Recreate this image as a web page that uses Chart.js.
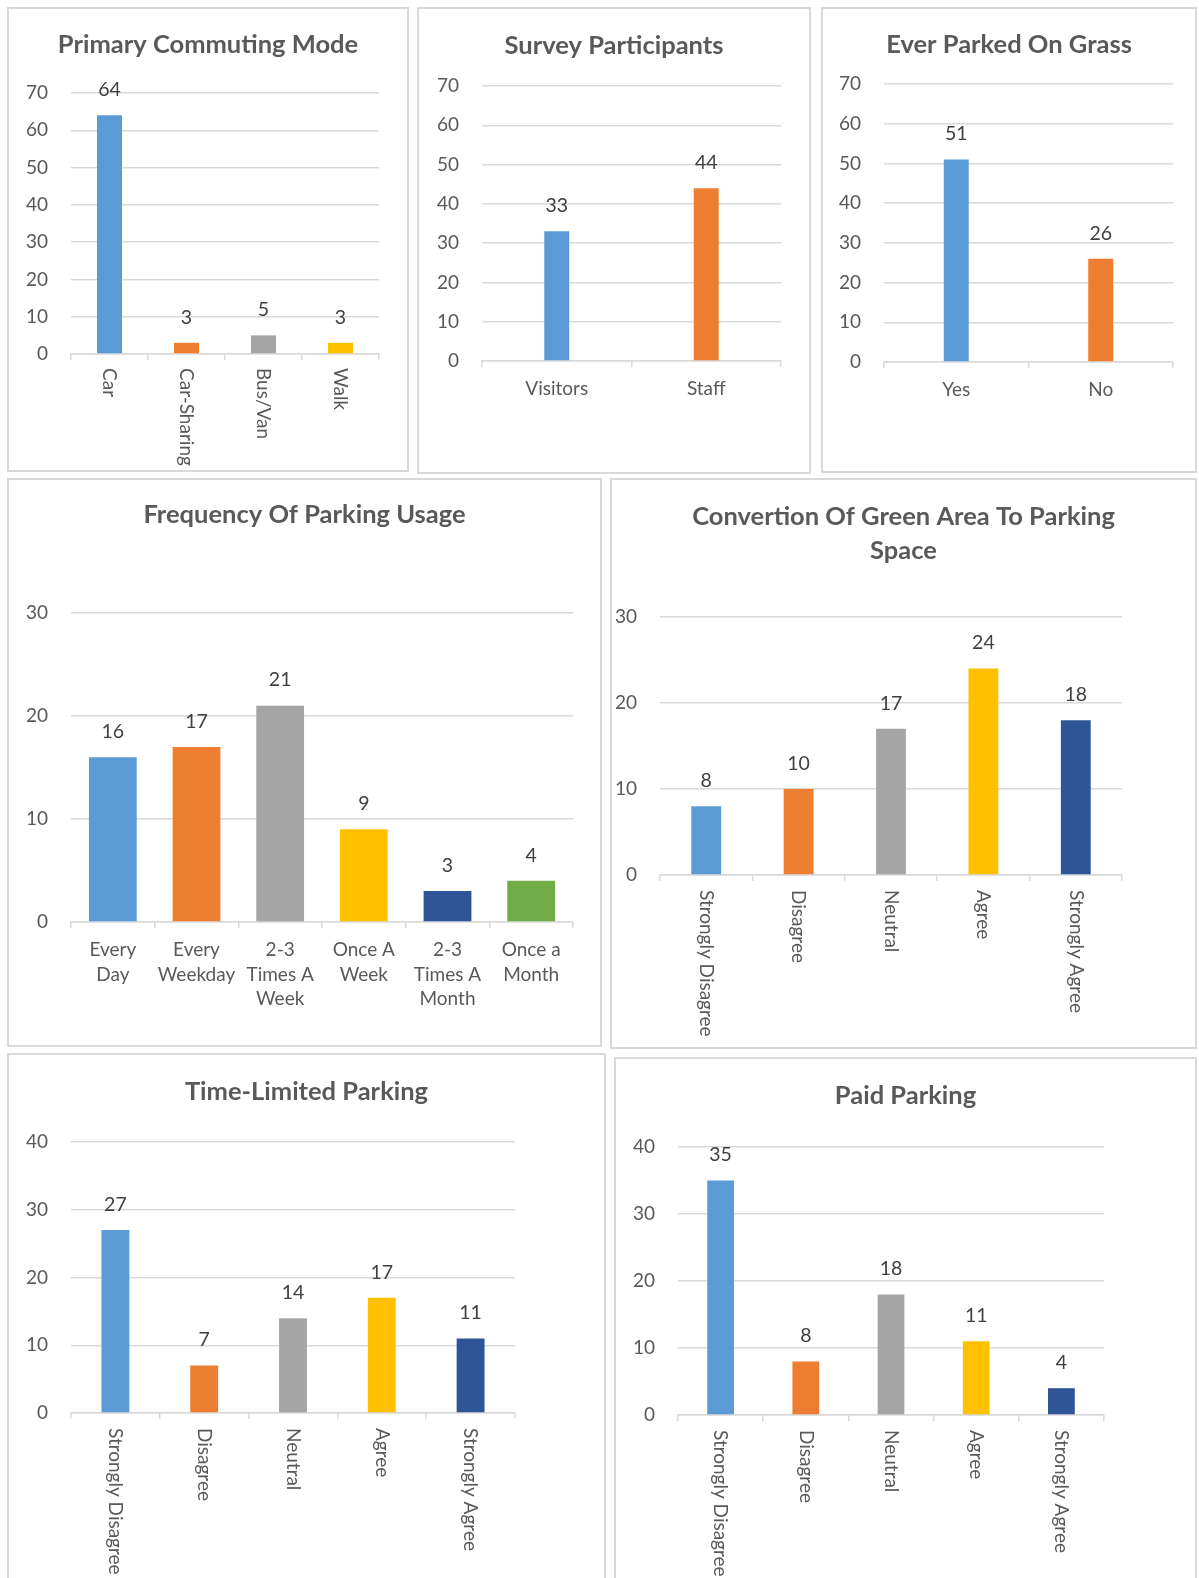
<!DOCTYPE html>
<html>
<head>
<meta charset="utf-8">
<script src="https://cdn.jsdelivr.net/npm/chart.js@4"></script>
<style>
  html, body { margin: 0; padding: 0; background: #fff; overflow: hidden; }
  body { width: 1199px; height: 1578px; position: relative; }
  .box { position: absolute; border: 2px solid #d9d9d9; box-sizing: border-box; }
  .box canvas { position: absolute; left: -2px; top: -2px; }
</style>
</head>
<body>
<script>
  // Survey data
  var commuteLabels = ['Car', 'Car-Sharing', 'Bus/Van', 'Walk'];
  var commuteValues = [64, 3, 5, 3];

  var participantLabels = ['Visitors', 'Staff'];
  var participantValues = [33, 44];

  var grassLabels = ['Yes', 'No'];
  var grassValues = [51, 26];

  var frequencyLabels = [['Every', 'Day'], ['Every', 'Weekday'], ['2-3', 'Times A', 'Week'],
                         ['Once A', 'Week'], ['2-3', 'Times A', 'Month'], ['Once a', 'Month']];
  var frequencyValues = [16, 17, 21, 9, 3, 4];

  var likertLabels = ['Strongly Disagree', 'Disagree', 'Neutral', 'Agree', 'Strongly Agree'];
  var conversionValues = [8, 10, 17, 24, 18];
  var timeLimitedValues = [27, 7, 14, 17, 11];
  var paidValues = [35, 8, 18, 11, 4];

  // y axis ranges (ticks every 10)
  var topRowMax = 70;
  var middleRowMax = 30;
  var bottomRowMax = 40;
  var tickStep = 10;

  var palette = ['#5B9BD5', '#ED7D31', '#A5A5A5', '#FFC000', '#2E5597', '#70AD47'];

  var FONT = 'Lato, "Open Sans", sans-serif';
  var TITLE_SIZE = 25.5;
  var TITLE_LH = 34.5;

  function drawBarChart(cfg) {
    var box = document.createElement('div');
    box.className = 'box';
    box.style.left = cfg.box[0] + 'px';
    box.style.top = cfg.box[1] + 'px';
    box.style.width = cfg.box[2] + 'px';
    box.style.height = cfg.box[3] + 'px';
    var canvas = document.createElement('canvas');
    canvas.width = cfg.box[2];
    canvas.height = cfg.box[3];
    canvas.style.width = cfg.box[2] + 'px';
    canvas.style.height = cfg.box[3] + 'px';
    box.appendChild(canvas);
    document.body.appendChild(box);

    var lines = Array.isArray(cfg.title) ? cfg.title.length : 1;
    var titleTop = cfg.titleCy - TITLE_LH / 2;
    var titleBottom = cfg.plotTop - titleTop - lines * TITLE_LH;
    var xHeight = cfg.box[3] - cfg.plotBottom;
    var padRight = cfg.box[2] - cfg.plotRight;

    // numbers above the bars
    var valueLabels = {
      id: 'valueLabels',
      afterDatasetsDraw: function (chart) {
        var ctx = chart.ctx;
        var meta = chart.getDatasetMeta(0);
        ctx.save();
        ctx.font = '19.5px ' + FONT;
        ctx.fillStyle = '#404040';
        ctx.textAlign = 'center';
        ctx.textBaseline = 'middle';
        meta.data.forEach(function (bar, i) {
          ctx.fillText(String(chart.data.datasets[0].data[i]), bar.x, bar.y - 25.5);
        });
        ctx.restore();
      }
    };

    // category names turned a quarter clockwise, reading downwards
    var rotatedLabels = {
      id: 'rotatedLabels',
      afterDraw: function (chart) {
        if (!cfg.rotated) return;
        var ctx = chart.ctx;
        var xs = chart.scales.x;
        ctx.save();
        ctx.font = '19px ' + FONT;
        ctx.fillStyle = '#595959';
        ctx.textAlign = 'left';
        ctx.textBaseline = 'middle';
        chart.data.labels.forEach(function (label, i) {
          ctx.save();
          ctx.translate(xs.getPixelForValue(i), chart.chartArea.bottom + cfg.gap);
          ctx.rotate(Math.PI / 2);
          ctx.fillText(label, 0, 0);
          ctx.restore();
        });
        ctx.restore();
      }
    };

    new Chart(canvas, {
      type: 'bar',
      data: {
        labels: cfg.labels,
        datasets: [{
          data: cfg.values,
          yAxisID: 'y',
          backgroundColor: palette.slice(0, cfg.values.length),
          barPercentage: cfg.barPct,
          categoryPercentage: 1
        }]
      },
      options: {
        responsive: false,
        animation: false,
        events: [],
        layout: { padding: 0 },
        plugins: {
          legend: { display: false },
          tooltip: { enabled: false },
          title: {
            display: true,
            text: cfg.title,
            color: '#595959',
            font: { family: FONT, size: TITLE_SIZE, weight: 'bold', lineHeight: TITLE_LH / TITLE_SIZE },
            padding: { top: titleTop, bottom: titleBottom }
          }
        },
        scales: {
          x: {
            grid: { offset: true, drawOnChartArea: false, color: '#d9d9d9', lineWidth: 1.5, tickLength: 6 },
            border: { color: '#d9d9d9', width: 1.5 },
            ticks: {
              display: !cfg.rotated,
              color: '#595959',
              font: { family: FONT, size: 19, lineHeight: 1.3 },
              maxRotation: 0, minRotation: 0, autoSkip: false, padding: 9.5
            },
            afterFit: function (scale) { scale.height = xHeight; }
          },
          y: {
            min: 0,
            max: cfg.max,
            ticks: { stepSize: tickStep, color: '#595959', font: { family: FONT, size: 19 }, padding: 23 },
            grid: { color: '#d9d9d9', lineWidth: 1.5, drawTicks: false },
            border: { display: false },
            afterFit: function (scale) { scale.width = cfg.plotLeft; }
          },
          padR: {
            type: 'linear',
            position: 'right',
            grid: { display: false },
            border: { display: false },
            ticks: { display: false },
            afterFit: function (scale) { scale.width = padRight; }
          }
        }
      },
      plugins: [valueLabels, rotatedLabels]
    });
  }

  drawBarChart({ box: [7, 7, 402, 465], title: 'Primary Commuting Mode', labels: commuteLabels, values: commuteValues,
    max: topRowMax, titleCy: 38, plotTop: 86, plotBottom: 347, plotLeft: 64, plotRight: 372, barPct: 0.325, rotated: true, gap: 14 });

  drawBarChart({ box: [417, 7, 394, 467], title: 'Survey Participants', labels: participantLabels, values: participantValues,
    max: topRowMax, titleCy: 39, plotTop: 79, plotBottom: 354, plotLeft: 65, plotRight: 364, barPct: 0.167 });

  drawBarChart({ box: [821, 7, 376, 466], title: 'Ever Parked On Grass', labels: grassLabels, values: grassValues,
    max: topRowMax, titleCy: 38, plotTop: 77, plotBottom: 355, plotLeft: 63, plotRight: 352, barPct: 0.173 });

  drawBarChart({ box: [7, 478, 595, 569], title: 'Frequency Of Parking Usage', labels: frequencyLabels, values: frequencyValues,
    max: middleRowMax, titleCy: 37, plotTop: 135, plotBottom: 444, plotLeft: 64, plotRight: 566, barPct: 0.571 });

  drawBarChart({ box: [610, 478, 587, 571], title: ['Convertion Of Green Area To Parking', 'Space'], labels: likertLabels, values: conversionValues,
    max: middleRowMax, titleCy: 38.6, plotTop: 139, plotBottom: 397, plotLeft: 50, plotRight: 512, barPct: 0.323, rotated: true, gap: 15 });

  drawBarChart({ box: [7, 1053, 599, 540], title: 'Time-Limited Parking', labels: likertLabels, values: timeLimitedValues,
    max: bottomRowMax, titleCy: 38.6, plotTop: 89, plotBottom: 360, plotLeft: 64, plotRight: 508, barPct: 0.314, rotated: true, gap: 15 });

  drawBarChart({ box: [614, 1057, 583, 540], title: 'Paid Parking', labels: likertLabels, values: paidValues,
    max: bottomRowMax, titleCy: 38.6, plotTop: 90, plotBottom: 358, plotLeft: 64, plotRight: 490, barPct: 0.314, rotated: true, gap: 15 });
</script>
</body>
</html>
